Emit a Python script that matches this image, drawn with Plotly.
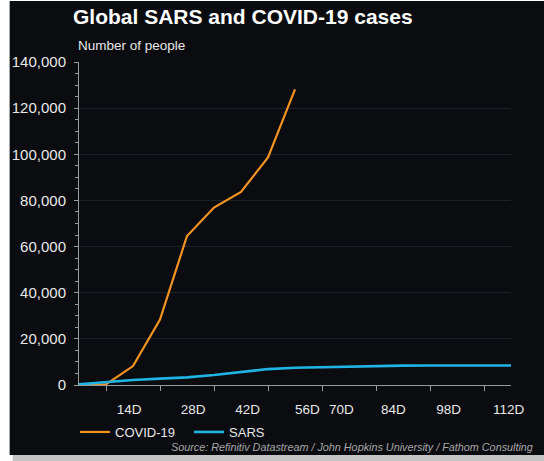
import plotly.graph_objects as go

# Data (days since outbreak start)
covid_days = [0, 7, 14, 21, 28, 35, 42, 49, 56]
covid_cases = [0, 300, 8200, 28400, 64600, 76900, 83700, 98600, 128100]

sars_days = [0, 7, 14, 21, 28, 35, 42, 49, 56, 63, 70, 77, 84, 91, 98, 105, 112]
sars_cases = [300, 1300, 2150, 2750, 3300, 4300, 5600, 6900, 7500, 7800, 8100, 8350, 8400, 8420, 8430, 8440, 8450]

x_label_pos = [13.0, 29.6, 43.7, 59.2, 68.0, 81.5, 95.8, 111.4]
x_label_text = ["14D", "28D", "42D", "56D", "70D", "84D", "98D", "112D"]
x_tick_marks = [7, 21, 35, 49, 63, 77, 91, 105]

y_tickvals = [0, 20000, 40000, 60000, 80000, 100000, 120000, 140000]
y_ticktext = ["0", "20,000", "40,000", "60,000", "80,000", "100,000", "120,000", "140,000"]

W, H = 544, 461
L, R, T, B = 75, 511, 62, 385
BG = "#0a0c10"
FONT = "Liberation Sans, Arial, sans-serif"

def px(x):
    return (x - L) / (R - L)

def py(y):
    return (B - y) / (B - T)

fig = go.Figure()
fig.add_trace(go.Scatter(x=covid_days, y=covid_cases, mode="lines", name="COVID-19",
                         line=dict(color="#f39322", width=2.2)))
fig.add_trace(go.Scatter(x=sars_days, y=sars_cases, mode="lines", name="SARS",
                         line=dict(color="#1fb4e4", width=2.6)))

fig.update_layout(
    width=W, height=H,
    margin=dict(l=L, r=W - R, t=T, b=H - B, pad=0),
    paper_bgcolor="white",
    plot_bgcolor=BG,
    font=dict(family=FONT, color="#e8e8e8"),
    title=dict(text="<b>Global SARS and COVID-19 cases</b>", font=dict(size=21, color="white", family=FONT),
               xref="container", x=73 / W, xanchor="left", yref="container", y=1 - 17 / H, yanchor="middle"),
    showlegend=True,
    legend=dict(orientation="h", x=px(71), xanchor="left", y=py(432), yanchor="middle",
                bgcolor="rgba(0,0,0,0)", font=dict(size=13, color="#e8e8e8", family=FONT),
                entrywidth=69, entrywidthmode="pixels", itemwidth=30),
    xaxis=dict(range=[0, 112], tickmode="array", tickvals=x_label_pos, ticktext=x_label_text,
               ticks="", showgrid=False, zeroline=False, showline=True, linecolor="#9a9a9a", linewidth=1,
               tickfont=dict(size=13.5, color="#e8e8e8"), ticklabelstandoff=12,
               minor=dict(tickmode="array", tickvals=x_tick_marks, ticks="outside", ticklen=5,
                          tickcolor="#9a9a9a", showgrid=False)),
    yaxis=dict(range=[0, 140000], tickmode="array", tickvals=y_tickvals, ticktext=y_ticktext,
               ticks="outside", ticklen=4, tickcolor="#9a9a9a", showline=True, linecolor="#9a9a9a",
               linewidth=1, showgrid=True, gridcolor="#1d2026", gridwidth=1, zeroline=False,
               tickfont=dict(size=15, color="#e8e8e8"), ticklabelstandoff=5,
               minor=dict(dtick=5000, tick0=0, ticks="outside", ticklen=3, tickcolor="#9a9a9a", showgrid=False)),
    shapes=[
        dict(type="rect", xref="paper", yref="paper", layer="below",
             x0=px(8), x1=px(546), y0=py(462), y1=py(454), fillcolor="#c4c4c4", line=dict(width=0)),
        dict(type="rect", xref="paper", yref="paper", layer="below",
             x0=px(5), x1=px(546), y0=py(455), y1=py(1), fillcolor=BG, line=dict(width=0)),
    ],
    annotations=[
        dict(text="Number of people", xref="paper", yref="paper", x=px(72), y=py(45),
             xanchor="left", yanchor="middle", showarrow=False,
             font=dict(size=13.5, color="#e8e8e8", family=FONT)),
        dict(text="<i>Source: Refinitiv Datastream / John Hopkins University / Fathom Consulting</i>",
             xref="paper", yref="paper", x=px(535), y=py(447), xanchor="right", yanchor="middle",
             showarrow=False, font=dict(size=10.8, color="#a8a8a8", family=FONT)),
    ],
)

fig.write_html("out.html", config={"displayModeBar": False},
               post_script="document.body.style.margin='0';")
